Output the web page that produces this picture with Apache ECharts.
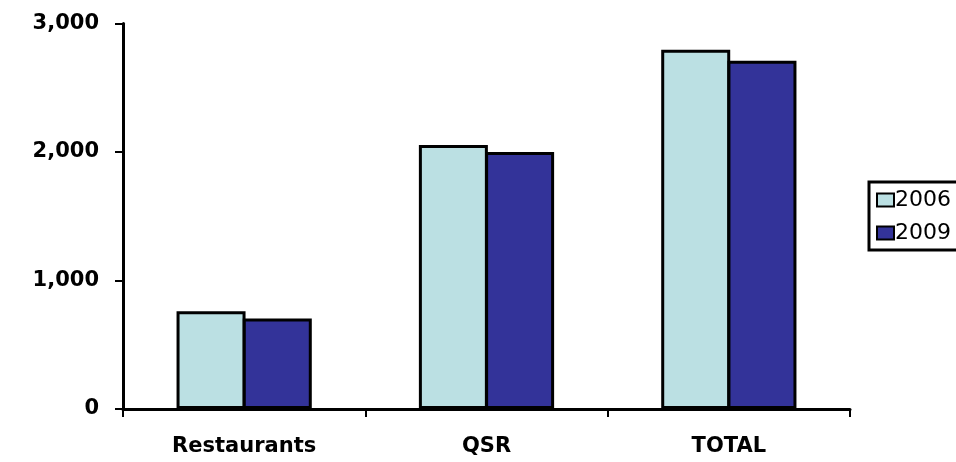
<!DOCTYPE html>
<html>
<head>
<meta charset="utf-8">
<script src="https://cdn.jsdelivr.net/npm/echarts@6/dist/echarts.min.js"></script>
<style>
  html, body { margin: 0; padding: 0; background: #fff; }
  #chart { width: 956px; height: 462px; }
</style>
</head>
<body>
<div id="chart"></div>
<script>
// Categories and yearly values
const categories = ['Restaurants', 'QSR', 'TOTAL'];
const values2006 = [760, 2055, 2795];
const values2009 = [705, 2000, 2710];
const seriesNames = ['2006', '2009'];

const chart = echarts.init(document.getElementById('chart'));

const barStyle = (color) => ({
  color: color,
  borderColor: '#000',
  borderWidth: 3
});

chart.setOption({
  animation: false,
  backgroundColor: '#fff',
  grid: { left: 123, right: 106, top: 23.5, bottom: 53 },
  legend: {
    orient: 'vertical',
    left: 869,
    top: 182,
    padding: [7, 30, 6, 7],
    borderColor: '#000',
    borderWidth: 3,
    icon: 'rect',
    itemWidth: 17,
    itemHeight: 13,
    itemGap: 11,
    data: seriesNames,
    textStyle: {
      fontFamily: 'DejaVu Sans',
      fontSize: 22,
      lineHeight: 22,
      color: '#000',
      padding: [0, 0, 0, -4]
    }
  },
  xAxis: {
    type: 'category',
    data: categories,
    axisLine: { lineStyle: { color: '#000', width: 3 } },
    axisTick: { show: true, length: 8, lineStyle: { color: '#000', width: 2 } },
    axisLabel: {
      margin: 27,
      color: '#000',
      fontFamily: 'DejaVu Sans',
      fontWeight: 'bold',
      fontSize: 21
    }
  },
  yAxis: {
    type: 'value',
    min: 0,
    max: 3000,
    interval: 1000,
    splitLine: { show: false },
    axisLine: { show: true, lineStyle: { color: '#000', width: 3 } },
    axisTick: { show: true, length: 8, lineStyle: { color: '#000', width: 2 } },
    axisLabel: {
      margin: 24,
      color: '#000',
      fontFamily: 'DejaVu Sans',
      fontWeight: 'bold',
      fontSize: 21,
      formatter: (v) => v.toLocaleString('en-US')
    }
  },
  series: [
    {
      name: seriesNames[0],
      type: 'bar',
      data: values2006,
      barWidth: 69,
      barGap: '-4%',
      itemStyle: barStyle('#BBE0E3')
    },
    {
      name: seriesNames[1],
      type: 'bar',
      data: values2009,
      barWidth: 69,
      barGap: '-4%',
      itemStyle: barStyle('#333399')
    }
  ]
});
</script>
</body>
</html>
